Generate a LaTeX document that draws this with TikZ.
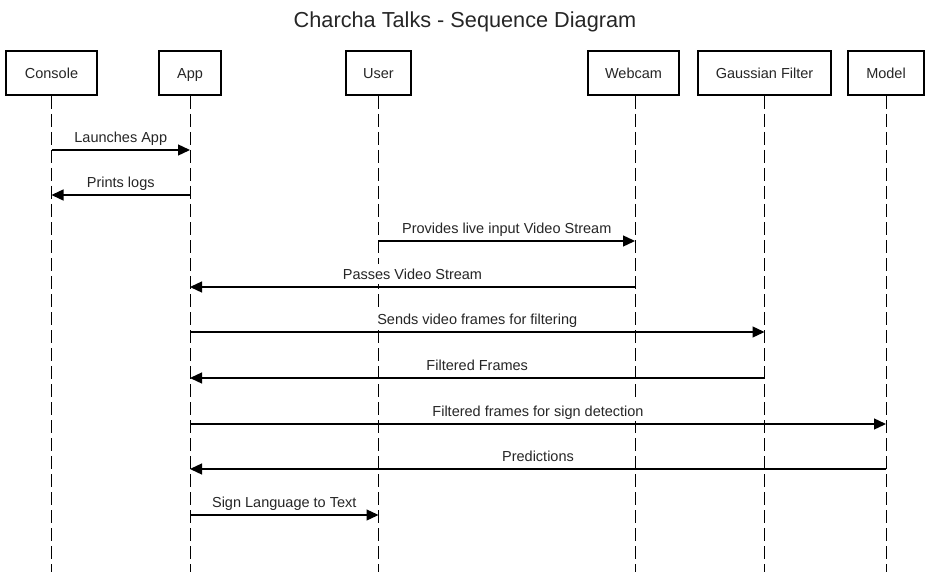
\documentclass[tikz,border=0pt]{standalone}
\usepackage{fontspec}
\setmainfont{Liberation Sans}
\usepackage{tikz}
\usetikzlibrary{arrows.meta, calc}

\begin{document}
\begin{tikzpicture}[x=1pt, y=1pt, node distance=130pt, >={Triangle[length=12pt,width=11pt]}, font=\fontsize{14.5}{17}\selectfont, text=black!85, block/.style = {draw, line width=2pt, fill=white, rectangle, minimum height=44pt, inner sep=0pt, text height=10.5pt, text depth=0pt}, lifeline/.style = {line width=1pt, dash pattern=on 13pt off 5pt}, msg/.style = {->, line width=1.3pt}, msglabel/.style = {anchor=south, fill=white, inner xsep=2pt, inner ysep=5pt, text depth=0pt, yshift=2pt}]
            \useasboundingbox (0,0) rectangle (931,-572);
            \coordinate (bottom) at (0,-572);

            % Title
            \node [anchor=base, font=\fontsize{21.7}{26}\selectfont] (title) at (465,-28) {Charcha Talks - Sequence Diagram};

            % Participants
            \node [block, minimum width=91pt] (console) at (51.5,-73) {Console};
            \node [block, right of=console, node distance=138.5pt, minimum width=62pt] (app) {App};
            \node [block, right of=app, node distance=188.5pt, minimum width=65pt] (user) {User};
            \node [block, right of=user, node distance=255pt, minimum width=91pt] (webcam) {Webcam};
            \node [block, right of=webcam, node distance=131pt, minimum width=133pt] (gauss) {Gaussian Filter};
            \node [block, right of=gauss, node distance=121.5pt, minimum width=76pt] (model) {Model};

            % Lifelines
            \draw [lifeline] (console.south) -- (console |- bottom);
            \draw [lifeline] (app.south) -- (app |- bottom);
            \draw [lifeline] (user.south) -- (user |- bottom);
            \draw [lifeline] ($(webcam.south)+(1.5,0)$) -- ($(webcam |- bottom)+(1.5,0)$);
            \draw [lifeline] (gauss.south) -- (gauss |- bottom);
            \draw [lifeline] (model.south) -- (model |- bottom);

            % Messages
            \draw [msg] (console |- 0,-150) -- node [msglabel] {Launches App} (app |- 0,-150);
            \draw [msg] (app |- 0,-195) -- node [msglabel] {Prints logs} (console |- 0,-195);
            \draw [msg] (user |- 0,-241) -- node [msglabel] {Provides live input Video Stream} ($(webcam |- 0,-241)+(1.5,0)$);
            \draw [msg] ($(webcam |- 0,-287)+(1.5,0)$) -- node [msglabel] {Passes Video Stream} (app |- 0,-287);
            \draw [msg] (app |- 0,-332) -- node [msglabel] {Sends video frames for filtering} (gauss |- 0,-332);
            \draw [msg] (gauss |- 0,-378) -- node [msglabel] {Filtered Frames} (app |- 0,-378);
            \draw [msg] (app |- 0,-424) -- node [msglabel] {Filtered frames for sign detection} (model |- 0,-424);
            \draw [msg] (model |- 0,-469) -- node [msglabel] {Predictions} (app |- 0,-469);
            \draw [msg] (app |- 0,-515) -- node [msglabel] {Sign Language to Text} (user |- 0,-515);
        \end{tikzpicture}
\end{document}
